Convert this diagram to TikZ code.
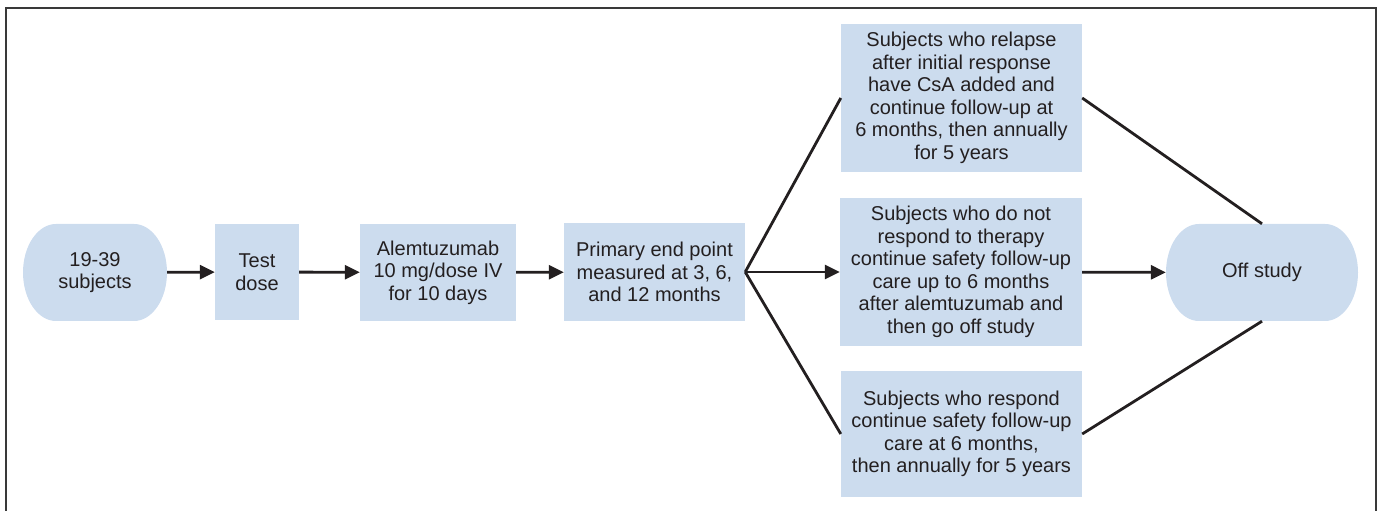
\documentclass[tikz,border=0pt]{standalone}
\usepackage{fontspec}
\setmainfont{Liberation Sans}
\usetikzlibrary{arrows.meta}
\definecolor{boxblue}{RGB}{204,220,238}
\definecolor{ink}{RGB}{35,31,32}
\tikzset{
  stepbox/.style={fill=boxblue, inner sep=0pt, align=center, text=ink,
    font=\fontsize{20}{22.5}\selectfont},
  terminal/.style={stepbox, fill=none, path picture={
    \fill[boxblue] ([xshift=33pt]path picture bounding box.north west)
      -- ([xshift=-33pt]path picture bounding box.north east)
      arc[start angle=90, end angle=-90, x radius=33pt, y radius=48.5pt]
      -- ([xshift=33pt]path picture bounding box.south west)
      arc[start angle=270, end angle=90, x radius=33pt, y radius=48.5pt]
      -- cycle;}},
  flow/.style={line width=2.8pt, draw=ink, -{Triangle[length=15pt,width=14pt]}},
  fan/.style={line width=2.8pt, draw=ink},
}
\begin{document}
\begin{tikzpicture}[x=1pt,y=1pt]
\useasboundingbox (0,0) rectangle (1379,511);
\draw[line width=1.7pt, gray!45!black] (6,-5) -- (6,503) -- (1376,503) -- (1376,-5);
\node[terminal, minimum width=144pt, minimum height=97pt] (subj) at (95,238.5) {19-39\\subjects};
\node[stepbox, minimum width=84pt, minimum height=96pt] (test) at (257,239) {Test\\dose};
\node[stepbox, minimum width=156pt, minimum height=97pt] (alem) at (438,238.5) {Alemtuzumab\\10 mg/dose IV\\for 10 days};
\node[stepbox, minimum width=181pt, minimum height=98pt] (prim) at (654.5,239) {Primary end point\\measured at 3, 6,\\and 12 months};
\node[stepbox, minimum width=241pt, minimum height=148pt] (relapse) at (961.5,413) {Subjects who relapse\\after initial response\\have CsA added and\\continue follow-up at\\6 months, then annually\\for 5 years};
\node[stepbox, minimum width=242pt, minimum height=148pt] (noresp) at (961,239) {Subjects who do not\\respond to therapy\\continue safety follow-up\\care up to 6 months\\after alemtuzumab and\\then go off study};
\node[stepbox, minimum width=241pt, minimum height=126pt] (resp) at (961.5,77) {Subjects who respond\\continue safety follow-up\\care at 6 months,\\then annually for 5 years};
\node[terminal, minimum width=192pt, minimum height=97pt] (off) at (1262,238.5) {Off study};
\draw[flow] (subj) -- (test);
\draw[flow] (test) -- (alem);
\draw[flow] (alem) -- (prim);
\draw[flow] (prim.east) -- (noresp.west);
\draw[fan] (prim.east) -- (relapse.west);
\draw[fan] (prim.east) -- (resp.west);
\draw[flow] (noresp) -- (off);
\draw[fan] (relapse.east) -- (off.north);
\draw[fan] (resp.east) -- (off.south);
\end{tikzpicture}
\end{document}
